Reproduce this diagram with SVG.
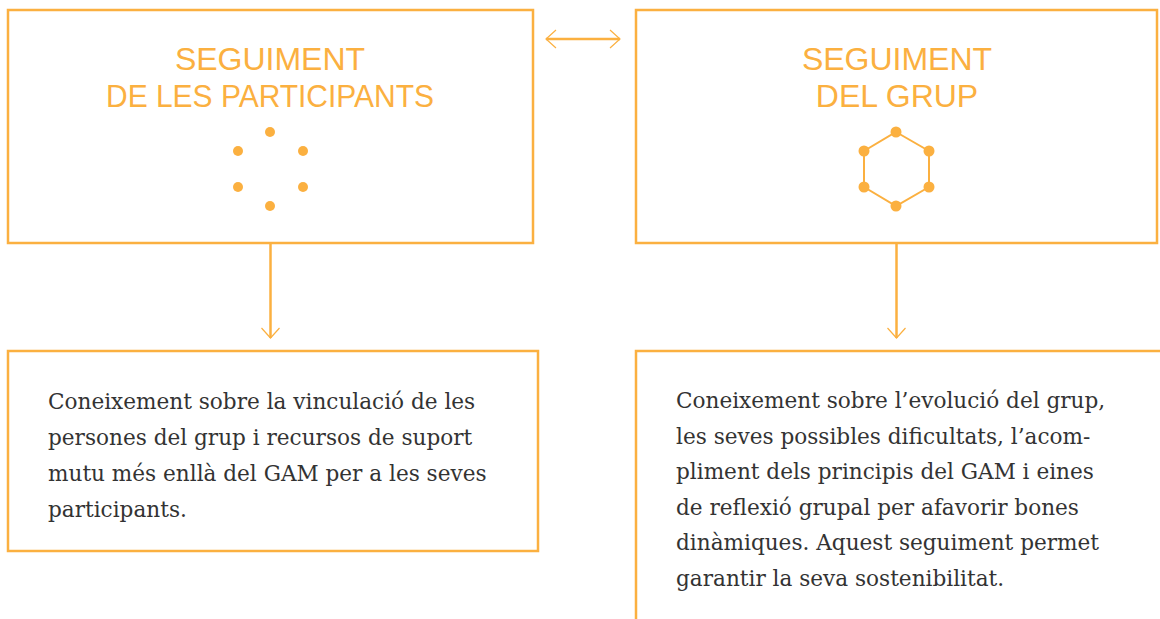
<svg xmlns="http://www.w3.org/2000/svg" width="1160" height="619" viewBox="0 0 1160 619">
<defs>
<style>
.box{fill:none;stroke:#FBB040;stroke-width:2.5}
.title{font-family:"Liberation Sans",Arial,sans-serif;font-size:32px;fill:#FBB040;text-anchor:middle}
.body{font-family:"DejaVu Serif","Liberation Serif",serif;font-size:21.6px;fill:#333333}
.conn{fill:none;stroke:#FBB040;stroke-width:2.5}
.dot{fill:#FBB040}
</style>
<marker id="head" viewBox="0 0 12 20" refX="11" refY="10" markerWidth="12" markerHeight="20" markerUnits="userSpaceOnUse" orient="auto-start-reverse">
<path d="M1,1 L11,10 L1,19" fill="none" stroke="#FBB040" stroke-width="1.2"/>
</marker>
</defs>
<rect width="1160" height="619" fill="#ffffff"/>
<g id="connectors">
<line class="conn" x1="546" y1="39" x2="620" y2="39" marker-start="url(#head)" marker-end="url(#head)"/>
<line class="conn" x1="270.5" y1="243" x2="270.5" y2="338" marker-end="url(#head)"/>
<line class="conn" x1="896.5" y1="243" x2="896.5" y2="338" marker-end="url(#head)"/>
</g>
<g id="seguiment-participants">
<rect class="box" x="8" y="10" width="525" height="233"/>
<text class="title" x="270" y="70">SEGUIMENT</text>
<text class="title" x="270" y="107" textLength="328" lengthAdjust="spacingAndGlyphs">DE LES PARTICIPANTS</text>
<circle class="dot" cx="270" cy="132" r="5"/>
<circle class="dot" cx="238" cy="151" r="5"/>
<circle class="dot" cx="303" cy="151" r="5"/>
<circle class="dot" cx="238" cy="187" r="5"/>
<circle class="dot" cx="303" cy="187" r="5"/>
<circle class="dot" cx="270" cy="206" r="5"/>
</g>
<g id="seguiment-grup">
<rect class="box" x="636" y="10" width="521" height="233"/>
<text class="title" x="897" y="70">SEGUIMENT</text>
<text class="title" x="897" y="107">DEL GRUP</text>
<polygon points="896,132 929,151 929,187 896,206 864,187 864,151" fill="none" stroke="#FBB040" stroke-width="2"/>
<circle class="dot" cx="896" cy="132" r="5.5"/>
<circle class="dot" cx="929" cy="151" r="5.5"/>
<circle class="dot" cx="929" cy="187" r="5.5"/>
<circle class="dot" cx="896" cy="206" r="5.5"/>
<circle class="dot" cx="864" cy="187" r="5.5"/>
<circle class="dot" cx="864" cy="151" r="5.5"/>
</g>
<g id="coneixement-participants">
<rect class="box" x="8" y="351" width="530" height="200"/>
<text class="body" x="48" y="409">Coneixement sobre la vinculació de les</text>
<text class="body" x="48" y="445">persones del grup i recursos de suport</text>
<text class="body" x="48" y="481">mutu més enllà del GAM per a les seves</text>
<text class="body" x="48" y="517">participants.</text>
</g>
<g id="coneixement-grup">
<path class="box" d="M1162,351 H636 V622"/>
<text class="body" x="676" y="408">Coneixement sobre l’evolució del grup,</text>
<text class="body" x="676" y="444">les seves possibles dificultats, l’acom-</text>
<text class="body" x="676" y="479">pliment dels principis del GAM i eines</text>
<text class="body" x="676" y="515">de reflexió grupal per afavorir bones</text>
<text class="body" x="676" y="550">dinàmiques. Aquest seguiment permet</text>
<text class="body" x="676" y="586">garantir la seva sostenibilitat.</text>
</g>
</svg>
